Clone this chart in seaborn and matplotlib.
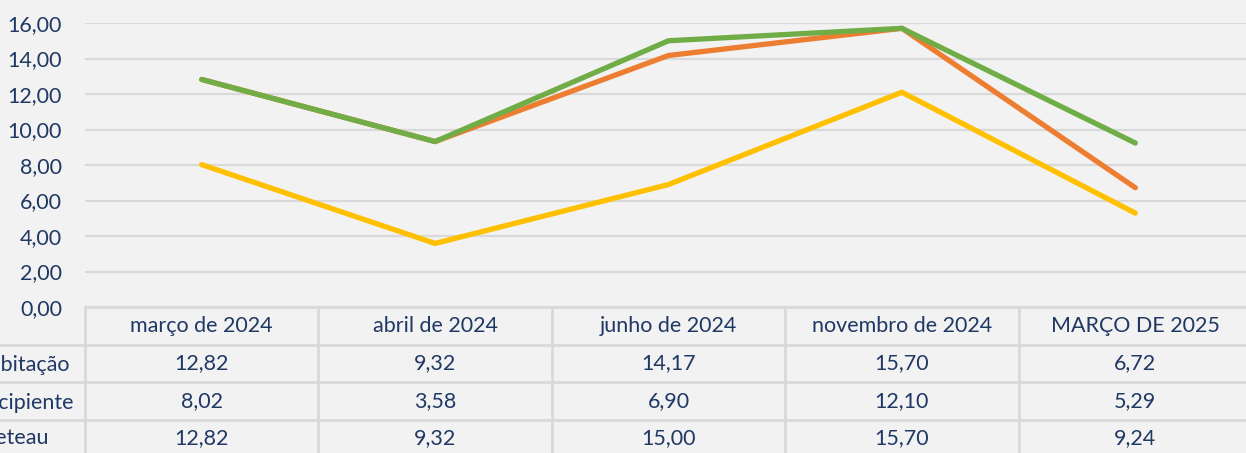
import pandas as pd
import seaborn as sns
import matplotlib.pyplot as plt

# Dados
meses = ["março de 2024", "abril de 2024", "junho de 2024", "novembro de 2024", "MARÇO DE 2025"]
series = ["Índice de Habitação", "Índice de Recipiente", "Índice de Breteau"]
habitacao = [12.82, 9.32, 14.17, 15.70, 6.72]
recipiente = [8.02, 3.58, 6.90, 12.10, 5.29]
breteau = [12.82, 9.32, 15.00, 15.70, 9.24]
cores = ["#ED7D31", "#FFC000", "#70AD47"]
yticks = [0, 2, 4, 6, 8, 10, 12, 14, 16]

bg = "#F2F2F2"
txt = "#1F3864"
grade = "#D9D9D9"
fs = 15.5

df = pd.DataFrame({
    "mes": meses * 3,
    "serie": [s for s in series for _ in meses],
    "valor": habitacao + recipiente + breteau,
})

sns.set_style("white")
plt.rcParams["font.family"] = ["Lato", "DejaVu Sans"]

fig = plt.figure(figsize=(12.46, 4.53), dpi=100, facecolor=bg)
W, H = 1246, 453
ax = fig.add_axes([85 / W, 1 - 307 / H, 1167 / W, 284 / H])
ax.set_facecolor(bg)

sns.lineplot(data=df, x="mes", y="valor", hue="serie", palette=cores, sort=False,
             linewidth=3.8, legend=False, ax=ax, solid_capstyle="round")

ax.set_xlim(-0.5, len(meses) - 0.5)
ax.set_ylim(0, 16)
ax.set_yticks(yticks)
ax.set_yticklabels([f"{v:.2f}".replace(".", ",") for v in yticks], color=txt, fontsize=fs)
ax.tick_params(axis="y", length=0, pad=16.5)
ax.set_xticks([])
ax.set_xlabel("")
ax.set_ylabel("")
ax.yaxis.grid(True, color=grade, linewidth=1.6)
ax.set_axisbelow(True)
for s in ax.spines.values():
    s.set_visible(False)

# tabela de dados
tab = fig.add_axes([85 / W, 1 - 457 / H, 1167 / W, 150 / H], sharex=ax)
tab.set_facecolor("none")
tab.set_ylim(4, 0)
tab.axis("off")
lw = 2.0
for r in range(4):
    tab.axhline(r, color=grade, linewidth=lw, clip_on=False)
for c in range(len(meses) + 1):
    tab.axvline(c - 0.5, color=grade, linewidth=lw, clip_on=False)
for r in (1, 2, 3):
    tab.plot([-1.5, -0.5], [r, r], color=grade, linewidth=lw, clip_on=False)

for i, m in enumerate(meses):
    tab.text(i, 0.5, m, ha="center", va="center", color=txt, fontsize=fs)
linhas = [habitacao, recipiente, breteau]
for r, vals in enumerate(linhas):
    for i, v in enumerate(vals):
        tab.text(i, r + 1.5, f"{v:.2f}".replace(".", ","), ha="center", va="center",
                 color=txt, fontsize=fs)

# rótulos das linhas (cortados na borda esquerda, como no original)
fig.canvas.draw()
rend = fig.canvas.get_renderer()
probe = fig.text(0, 0, "Índice de Ha", fontsize=fs)
corte = probe.get_window_extent(rend).width
probe.remove()
x0 = (-corte + 1) / W
for r, nome in enumerate(series):
    yc = tab.transData.transform((0, r + 1.5))[1] / H
    fig.text(x0, yc, nome, ha="left", va="center", color=txt, fontsize=fs)

fig.savefig("out.png", dpi=100, facecolor=bg)
